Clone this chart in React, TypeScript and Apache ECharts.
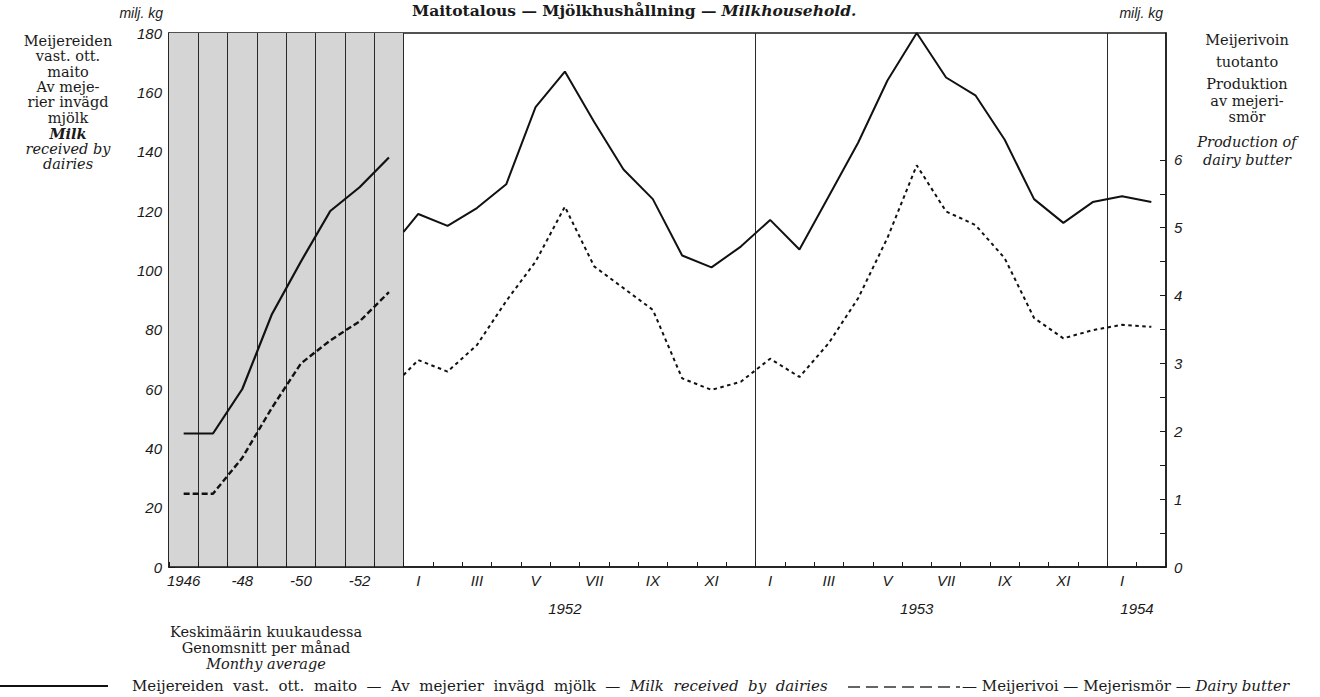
import React, { useEffect, useRef } from "react";
import * as echarts from "echarts";

// ---- categories (8 annual averages + 26 months) ----
const categories = [
  "1946", "1947", "1948", "1949", "1950", "1951", "1952", "1953",
  "I 1952", "II 1952", "III 1952", "IV 1952", "V 1952", "VI 1952", "VII 1952", "VIII 1952", "IX 1952", "X 1952", "XI 1952", "XII 1952",
  "I 1953", "II 1953", "III 1953", "IV 1953", "V 1953", "VI 1953", "VII 1953", "VIII 1953", "IX 1953", "X 1953", "XI 1953", "XII 1953",
  "I 1954", "II 1954",
];

// ---- tick labels ----
const tickLabels = [
  "1946", "", "-48", "", "-50", "", "-52", "",
  "I", "", "III", "", "V", "", "VII", "", "IX", "", "XI", "",
  "I", "", "III", "", "V", "", "VII", "", "IX", "", "XI", "",
  "I", "",
];
const yearLabels = [
  "", "", "", "", "", "", "", "",
  "", "", "", "", "", "1952", "", "", "", "", "", "",
  "", "", "", "", "", "1953", "", "", "", "", "", "",
  "1954", "",
];
const shiftedYearLabels = ["1954"];
const dividerIndexes = [1, 2, 3, 4, 5, 6, 7, 8, 20, 32];
const leftTicks = [0, 10, 20, 30, 40, 50, 60, 70, 80, 90, 100, 110, 120, 130, 140, 150, 160, 170, 180];
const leftLabels = [0, 20, 40, 60, 80, 100, 120, 140, 160, 180];
const rightTicks = [0, 0.5, 1, 1.5, 2, 2.5, 3, 3.5, 4, 4.5, 5, 5.5, 6];
const rightLabels = [0, 1, 2, 3, 4, 5, 6];

// ---- series values (milj. kg) ----
const milkAnnual = [45, 45, 60, 85, 103, 120, 128, 138];
const butterAnnual = [1.08, 1.08, 1.61, 2.34, 3.0, 3.34, 3.62, 4.05];
const milkMonthStart = 113;
const butterMonthStart = 2.83;
const milkMonthly = [
  119, 115, 121, 129, 155, 167, 150, 134, 124, 105, 101, 108,
  117, 107, 125, 143, 164, 180, 165, 159, 144, 124, 116, 123,
  125, 123,
];
const butterMonthly = [
  3.05, 2.88, 3.27, 3.92, 4.5, 5.31, 4.43, 4.11, 3.79, 2.78, 2.61, 2.73,
  3.07, 2.8, 3.3, 3.96, 4.85, 5.92, 5.24, 5.04, 4.55, 3.67, 3.37, 3.49,
  3.57, 3.54,
];

const LEFT_MAX = 180;
const RIGHT_MAX = 7.87;

const INK = "#1a1a1a";
const SERIF = "'DejaVu Serif', 'Liberation Serif', serif";
const SANS = "'Liberation Sans', 'DejaVu Sans', sans-serif";
const TXT = 14.5;
const LEG = 15;

export default function App() {
  const ref = useRef<HTMLDivElement>(null);

  useEffect(() => {
    if (!ref.current) return;
    const chart = echarts.init(ref.current, undefined, { renderer: "svg" });
    const nA = milkAnnual.length;
    const annualX = (arr: number[]) => arr.map((v, i) => [i + 0.5, v]);
    const monthlyX = (start: number, arr: number[]) => [[nA, start], ...arr.map((v, j) => [nA + j + 0.5, v])];

    const axisLabelBase = {
      color: INK,
      fontFamily: SANS,
      fontStyle: "italic" as const,
      fontSize: 15,
    };
    const italic = { fontFamily: SERIF, fontSize: TXT, fontStyle: "italic", fill: INK };
    const legItalic = { fontFamily: SERIF, fontSize: LEG, fontStyle: "italic", fill: INK };

    const option: any = {
      animation: false,
      backgroundColor: "#ffffff",
      title: {
        left: 412,
        top: 1,
        padding: 0,
        text: "{b|Maitotalous — Mjölkhushållning —} {i|Milkhousehold.}",
        textStyle: {
          rich: {
            b: { fontFamily: SERIF, fontWeight: "bold", fontSize: 15.5, color: INK },
            i: { fontFamily: SERIF, fontStyle: "italic", fontSize: 15.5, color: INK },
          },
        },
      },
      grid: {
        left: 169,
        right: 154,
        top: 33,
        bottom: 130,
        show: true,
        borderColor: INK,
        borderWidth: 1.5,
        backgroundColor: "transparent",
      },
      xAxis: [
        {
          type: "category",
          data: categories,
          boundaryGap: true,
          z: 3,
          axisLine: { show: true, lineStyle: { color: INK, width: 1.5 } },
          axisTick: { show: true, inside: true, length: 5, interval: 0, lineStyle: { color: INK, width: 1 } },
          axisLabel: {
            ...axisLabelBase,
            interval: 0,
            margin: 6,
            formatter: (_v: string, i: number) => tickLabels[i],
          },
          splitLine: {
            show: true,
            interval: (i: number) => dividerIndexes.includes(i),
            lineStyle: { color: "#2a2a2a", width: 1 },
          },
        },
        {
          type: "category",
          data: categories,
          boundaryGap: true,
          position: "bottom",
          offset: 28,
          axisLine: { show: false },
          axisTick: { show: false },
          splitLine: { show: false },
          axisLabel: {
            ...axisLabelBase,
            interval: 0,
            margin: 6,
            formatter: (_v: string, i: number) =>
              shiftedYearLabels.includes(yearLabels[i]) ? `{s|${yearLabels[i]}}` : yearLabels[i],
            rich: {
              s: { ...axisLabelBase, padding: [0, 0, 0, 30] },
            },
          },
        },
        {
          type: "value",
          min: 0,
          max: categories.length,
          show: false,
        },
      ],
      yAxis: [
        {
          type: "value",
          min: 0,
          max: LEFT_MAX,
          interval: 20,
          position: "left",
          name: "milj. kg",
          nameLocation: "end",
          nameGap: 13,
          nameTextStyle: { ...axisLabelBase, fontSize: 14, align: "right", padding: [0, 6, 0, 0] },
          axisLine: { show: true, lineStyle: { color: INK, width: 1.5 } },
          axisTick: { show: true, inside: true, length: 6, customValues: leftTicks, lineStyle: { color: INK } },
          axisLabel: { ...axisLabelBase, margin: 7, customValues: leftLabels },
          splitLine: { show: false },
        },
        {
          type: "value",
          min: 0,
          max: RIGHT_MAX,
          position: "right",
          name: "milj. kg",
          nameLocation: "end",
          nameGap: 13,
          nameTextStyle: { ...axisLabelBase, fontSize: 14, align: "right", padding: [0, 3, 0, 0] },
          axisLine: { show: true, lineStyle: { color: INK, width: 1.5 } },
          axisTick: { show: true, inside: true, length: 6, customValues: rightTicks, lineStyle: { color: INK } },
          axisLabel: { ...axisLabelBase, margin: 8, customValues: rightLabels },
          splitLine: { show: false },
        },
      ],
      series: [
        {
          name: "Milk received by dairies (annual)",
          type: "line",
          xAxisIndex: 2,
          yAxisIndex: 0,
          data: annualX(milkAnnual),
          symbol: "none",
          lineStyle: { color: "#111", width: 2.2 },
          markArea: {
            silent: true,
            itemStyle: { color: "#d5d5d5" },
            data: [[{ xAxis: 0 }, { xAxis: nA }]],
          },
        },
        {
          name: "Milk received by dairies (monthly)",
          type: "line",
          xAxisIndex: 2,
          yAxisIndex: 0,
          data: monthlyX(milkMonthStart, milkMonthly),
          symbol: "none",
          lineStyle: { color: "#111", width: 2 },
        },
        {
          name: "Dairy butter (annual)",
          type: "line",
          xAxisIndex: 2,
          yAxisIndex: 1,
          data: annualX(butterAnnual),
          symbol: "none",
          lineStyle: { color: "#111", width: 2.4, type: [6, 3] },
        },
        {
          name: "Dairy butter (monthly)",
          type: "line",
          xAxisIndex: 2,
          yAxisIndex: 1,
          data: monthlyX(butterMonthStart, butterMonthly),
          symbol: "none",
          lineStyle: { color: "#111", width: 2, type: [3.5, 3.5] },
        },
      ],
      graphic: [
        {
          type: "text",
          x: 68,
          y: 33,
          style: {
            text:
              "Meijereiden\nvast. ott.\nmaito\nAv meje-\nrier invägd\nmjölk\n{bi|Milk}\n{i|received by}\n{i|dairies}",
            fill: INK,
            font: `${TXT}px ${SERIF}`,
            align: "center",
            lineHeight: 15.4,
            rich: {
              bi: { ...italic, fontWeight: "bold", lineHeight: 15.4 },
              i: { ...italic, lineHeight: 15.4 },
            },
          },
        },
        {
          type: "text",
          x: 1247,
          y: 29,
          style: { text: "Meijerivoin\ntuotanto", fill: INK, font: `${TXT}px ${SERIF}`, align: "center", lineHeight: 22 },
        },
        {
          type: "text",
          x: 1247,
          y: 76,
          style: { text: "Produktion\nav mejeri-\nsmör", fill: INK, font: `${TXT}px ${SERIF}`, align: "center", lineHeight: 16.5 },
        },
        {
          type: "text",
          x: 1247,
          y: 133,
          style: {
            text: "Production of\ndairy butter",
            fill: INK,
            font: `italic ${TXT}px ${SERIF}`,
            align: "center",
            lineHeight: 18,
          },
        },
        {
          type: "text",
          x: 266,
          y: 624,
          style: {
            text: "Keskimäärin kuukaudessa\nGenomsnitt per månad\n{i|Monthy average}",
            fill: INK,
            font: `${TXT}px ${SERIF}`,
            align: "center",
            lineHeight: 16,
            rich: { i: { ...italic, lineHeight: 16 } },
          },
        },
        {
          type: "line",
          shape: { x1: 0, y1: 686, x2: 108, y2: 686 },
          style: { stroke: "#111", lineWidth: 1.8 },
        },
        {
          type: "text",
          x: 132,
          y: 686,
          style: {
            text: "Meijereiden  vast.  ott.  maito  —  Av  mejerier  invägd  mjölk  —  {i|Milk  received  by  dairies}",
            fill: INK,
            font: `${LEG}px ${SERIF}`,
            verticalAlign: "middle",
            rich: { i: legItalic },
          },
        },
        {
          type: "line",
          shape: { x1: 848, y1: 687, x2: 960, y2: 687 },
          style: { stroke: "#333", lineWidth: 1.3, lineDash: [12, 6] },
        },
        {
          type: "text",
          x: 962,
          y: 686,
          style: {
            text: "— Meijerivoi — Mejerismör — {i|Dairy butter}",
            fill: INK,
            font: `${LEG}px ${SERIF}`,
            verticalAlign: "middle",
            rich: { i: legItalic },
          },
        },
      ],
    };

    chart.setOption(option);
    return () => chart.dispose();
  }, []);

  return (
    <div
      ref={ref}
      style={{ position: "absolute", left: 0, top: 0, width: 1320, height: 697, background: "#fff" }}
    />
  );
}
